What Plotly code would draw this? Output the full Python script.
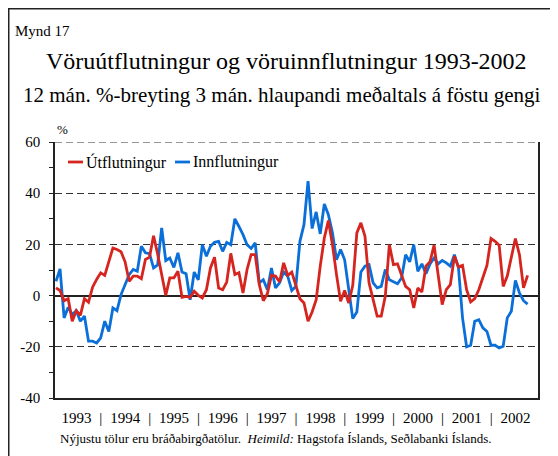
import plotly.graph_objects as go

# ---- data (monthly, Jan 1993 - Sep 2002) ----
start_year = 1993
utflutningur = [
    3.0, 2.0, -2.0, -1.2, -10.0, -5.9, -7.7, -1.2, -2.6, 3.3, 6.3, 8.9,
    7.9, 13.2, 18.6, 18.0, 17.1, 13.2, 5.6, 7.6, 7.6, 6.6, 14.1, 15.0,
    23.4, 16.3, 8.2, 0.1, 6.9, 6.9, 9.5, -0.7, -0.3, -0.7, 1.7, 0.1,
    -0.9, 2.3, 10.8, 15.0, 3.0, 2.3, 5.3, 16.5, 8.2, 8.9, 1.0, 10.2,
    16.0, 16.0, 4.3, -2.0, 0.7, 7.9, 7.6, 5.3, 12.8, 7.9, 9.2, 4.3,
    -1.2, -2.9, -10.0, -6.4, -1.6, 11.5, 22.5, 29.3, 19.9, 8.2, -2.2, 2.0,
    -2.9, 4.0, 24.5, 28.4, 23.2, 5.0, -2.0, -8.0, -8.0, -0.3, 19.9, 12.1,
    12.4, 7.6, 3.6, 2.3, -4.8, 3.0, 1.4, 11.5, 13.2, 19.7, 8.9, -3.5,
    2.3, 4.3, 15.4, 11.2, 11.8, 2.3, -2.5, -1.2, 2.3, 6.9, 11.8, 22.3,
    21.2, 19.7, 3.6, 7.6, 15.4, 22.3, 16.0, 3.0, 7.9,
]
innflutningur = [
    5.6, 10.4, -8.7, -4.6, -7.4, -5.9, -10.0, -8.0, -17.8, -17.8, -18.5, -16.5,
    -10.0, -14.0, -4.8, -5.9, 0.4, 4.3, 8.2, 10.2, 9.5, 19.3, 16.7, 16.4,
    10.8, 12.0, 26.4, 13.7, 14.7, 11.0, 16.7, 9.2, 8.5, -1.6, 9.2, 6.2,
    19.9, 15.4, 19.3, 20.8, 21.2, 17.3, 20.8, 19.9, 30.0, 27.0, 23.8, 19.9,
    18.4, 20.6, 5.0, 6.2, 2.3, 10.8, 3.0, 5.0, 9.2, 7.6, 2.0, 3.6,
    21.2, 27.7, 44.7, 26.2, 32.7, 24.1, 35.8, 31.6, 24.5, 14.0, 18.0, 14.0,
    2.3, -9.0, -6.4, 9.2, 11.5, 12.1, 5.0, 3.0, 3.6, 10.2, 6.2, 5.3,
    4.6, 6.9, 16.0, 13.2, 19.9, 9.5, 12.4, 8.5, 12.4, 14.7, 12.4, 13.7,
    12.8, 11.5, 16.0, 10.8, -8.7, -20.0, -19.4, -10.0, -9.4, -12.6, -14.0, -19.4,
    -19.4, -20.4, -19.8, -8.7, -6.1, 5.9, 1.0, -2.0, -3.3,
]
series_names = ["Útflutningur", "Innflutningur"]
years = list(range(1993, 2003))
year_labels = [str(y) for y in years]
y_ticks = [-40, -20, 0, 20, 40, 60]

months = [start_year + i / 12 for i in range(len(utflutningur))]

RED = "#d6241f"
BLUE = "#0a6fd8"
FONT = "Liberation Serif, Times New Roman, serif"

# The page places the figure 8px from the window's top-left corner,
# so work in window coordinates and convert.
OFF = 8
FIG_W, FIG_H = 558 - OFF, 456 - OFF
# plot-area edges in window pixels
L, R, T, B = 55, 538, 142, 398
W, H = R - L, B - T


def fx(px):
    return (px - L) / W


def fy(py):
    return (B - py) / H


fig = go.Figure()
fig.add_trace(go.Scatter(x=months, y=innflutningur, mode="lines", name=series_names[1],
                         line=dict(color=BLUE, width=2.8), showlegend=False))
fig.add_trace(go.Scatter(x=months, y=utflutningur, mode="lines", name=series_names[0],
                         line=dict(color=RED, width=2.8), showlegend=False))

# year labels with separators
tickvals, ticktext = [], []
for i, y in enumerate(years):
    tickvals.append(y + 0.42)
    ticktext.append(year_labels[i])
    if i < len(years) - 1:
        tickvals.append(y + 0.92)
        ticktext.append("|")

fig.update_layout(
    width=FIG_W, height=FIG_H,
    margin=dict(l=L - OFF, r=558 - R, t=T - OFF, b=456 - B, pad=0),
    paper_bgcolor="white", plot_bgcolor="white",
    font=dict(family=FONT, color="black", size=15),
    showlegend=False,
    xaxis=dict(range=[1992.98, 2002.88], showline=True, linecolor="#222", linewidth=1.5,
               ticks="", showgrid=False, zeroline=False, tickmode="array",
               tickvals=tickvals, ticktext=ticktext, tickangle=0,
               ticklabelstandoff=5,
               tickfont=dict(size=15, family=FONT)),
    yaxis=dict(range=[-40, 60], tickmode="array", tickvals=y_ticks,
               ticktext=[str(v) for v in y_ticks],
               ticks="outside", ticklen=4, tickcolor="#222", tickwidth=1,
               minor=dict(dtick=10, tick0=0, ticks="outside", ticklen=4,
                          tickcolor="#222", showgrid=False),
               showgrid=True, gridcolor="#333", gridwidth=1, griddash="7px,4px",
               zeroline=True, zerolinecolor="#222", zerolinewidth=2,
               showline=True, linecolor="#222", linewidth=1.5, mirror=True,
               ticklabelstandoff=6,
               tickfont=dict(size=15, family=FONT)),
)

annotations = [
    dict(text="Mynd 17", x=fx(13), y=fy(31), xanchor="left", yanchor="middle",
         font=dict(size=15)),
    dict(text="Vöruútflutningur og vöruinnflutningur 1993-2002", x=fx(286), y=fy(61),
         xanchor="center", yanchor="middle", font=dict(size=24)),
    dict(text="12 mán. %-breyting 3 mán. hlaupandi meðaltals á föstu gengi", x=fx(281),
         y=fy(95), xanchor="center", yanchor="middle", font=dict(size=21)),
    dict(text="%", x=fx(62), y=fy(129), xanchor="center", yanchor="middle",
         font=dict(size=13)),
    dict(text="Nýjustu tölur eru bráðabirgðatölur.  <i>Heimild:</i> Hagstofa Íslands, Seðlabanki Íslands.",
         x=fx(58), y=fy(438), xanchor="left", yanchor="middle", font=dict(size=13)),
    # legend texts
    dict(text=series_names[0], x=fx(84), y=fy(162), xanchor="left", yanchor="middle",
         font=dict(size=16)),
    dict(text=series_names[1], x=fx(191), y=fy(162), xanchor="left", yanchor="middle",
         font=dict(size=16)),
]
for a in annotations:
    a.update(xref="paper", yref="paper", showarrow=False)
    a["font"].update(family=FONT, color="black")
fig.update_layout(annotations=annotations)

# legend line samples
fig.add_shape(type="line", xref="paper", yref="paper", x0=fx(68), x1=fx(83),
              y0=fy(162), y1=fy(162), line=dict(color=RED, width=2.8))
fig.add_shape(type="line", xref="paper", yref="paper", x0=fx(175), x1=fx(190),
              y0=fy(162), y1=fy(162), line=dict(color=BLUE, width=2.8))

# dashed top gridline at 60
fig.add_shape(type="line", xref="paper", yref="y", x0=0, x1=1, y0=60, y1=60,
              line=dict(color="#333", width=1, dash="7px,4px"))

# outer frame (left and top edges, at the figure edge)
fig.add_shape(type="line", xref="paper", yref="paper", x0=fx(OFF + 0.75), x1=fx(OFF + 0.75),
              y0=fy(OFF), y1=fy(460), line=dict(color="#222", width=1.5))
fig.add_shape(type="line", xref="paper", yref="paper", x0=fx(OFF), x1=fx(560),
              y0=fy(OFF + 0.75), y1=fy(OFF + 0.75), line=dict(color="#222", width=1.5))

fig.write_html("out.html")
